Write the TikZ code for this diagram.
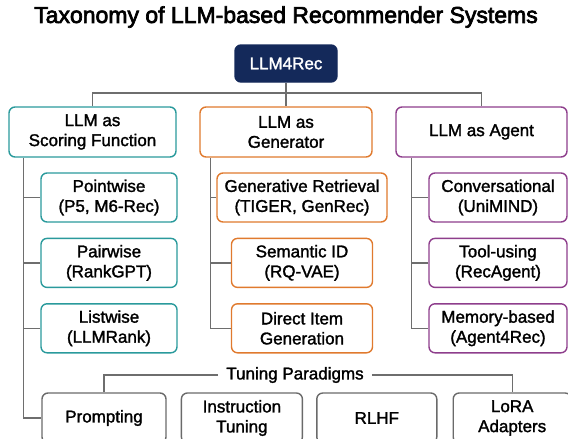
\documentclass[tikz,border=0pt]{standalone}
\usepackage{fontspec}
\setmainfont{Liberation Sans}[FakeBold=1.6]
\usetikzlibrary{positioning}
\definecolor{navy}{HTML}{14295A}
\definecolor{tealc}{HTML}{2A9A9C}
\definecolor{orangec}{HTML}{E07A2E}
\definecolor{purplec}{HTML}{8E3E8C}
\definecolor{linegray}{HTML}{6E6E6E}
\definecolor{tunegray}{HTML}{6A6A6A}

\begin{document}
\begin{tikzpicture}[
  x=1pt, y=-1pt,
  node distance=15pt and 14pt,
  box/.style={draw,rounded corners=6pt,line width=1.4pt,fill=white,align=center,
    inner sep=0pt,font=\fontsize{17}{20}\selectfont},
  rootbox/.style={box,draw=navy,fill=navy,text=white,minimum width=102pt,minimum height=37pt},
  scorebox/.style={box,draw=tealc,minimum height=49pt},
  genbox/.style={box,draw=orangec,minimum height=49pt},
  agentbox/.style={box,draw=purplec,minimum height=49pt},
  tunebox/.style={box,draw=tunegray,minimum height=50pt},
  link/.style={draw=linegray,line width=1.4pt}
]
\useasboundingbox (0,0) rectangle (568,439);

\node[font=\fontsize{23}{27}\selectfont\addfontfeatures{FakeBold=3}] (title) at (286,17) {Taxonomy of LLM-based Recommender Systems};

\node[rootbox] (root) at (286,63.5) {LLM4Rec};

\node[scorebox,minimum width=167pt,minimum height=50pt] (score) at (92.5,132) {LLM as\\Scoring Function};
\node[genbox,minimum width=172pt,minimum height=50pt] (gen) at (286,132) {LLM as\\Generator};
\node[agentbox,minimum width=171pt,minimum height=50pt] (agent) at (481.5,132) {LLM as Agent};

\node[scorebox,minimum width=136pt] (pw) at (109,197.5) {Pointwise\\(P5, M6-Rec)};
\node[scorebox,minimum width=136pt,below=of pw] (pair) {Pairwise\\(RankGPT)};
\node[scorebox,minimum width=136pt,below=of pair] (list) {Listwise\\(LLMRank)};

\node[genbox,minimum width=170pt] (gr) at (302,197.5) {Generative Retrieval\\(TIGER, GenRec)};
\node[genbox,minimum width=141pt,below=of gr] (sid) {Semantic ID\\(RQ-VAE)};
\node[genbox,minimum width=141pt,below=of sid] (dig) {Direct Item\\Generation};

\node[agentbox,minimum width=138pt] (conv) at (498,197.5) {Conversational\\(UniMIND)};
\node[agentbox,minimum width=138pt,below=of conv] (tool) {Tool-using\\(RecAgent)};
\node[agentbox,minimum width=138pt,below=of tool] (mem) {Memory-based\\(Agent4Rec)};

\node[font=\fontsize{17}{20}\selectfont,inner sep=8pt] (tune) at (295,375) {Tuning Paradigms};
\node[tunebox,minimum width=124pt] (prompt) at (104,418) {Prompting};
\node[tunebox,minimum width=121pt,right=of prompt] (instr) {Instruction\\Tuning};
\node[tunebox,minimum width=120pt,right=13pt of instr] (rlhf) {RLHF};
\node[tunebox,minimum width=118pt,right=15pt of rlhf] (lora) {LoRA\\Adapters};

\coordinate (bus) at (286,93);
\coordinate (strunk) at ([xshift=15pt]score.south west);
\coordinate (gtrunk) at ([xshift=11pt]gen.south west);
\coordinate (atrunk) at ([xshift=16pt]agent.south west);

\draw[link] (root) -- (gen);
\draw[link] (score.north) |- (bus) -| (agent.north);

\draw[link] (strunk) |- (prompt.west);
\draw[link] (pw.west) -- (pw.west -| strunk);
\draw[link] (pair.west) -- (pair.west -| strunk);
\draw[link] (list.west) -- (list.west -| strunk);

\draw[link] (gtrunk) |- (dig.west);
\draw[link] (gr.west) -- (gr.west -| gtrunk);
\draw[link] (sid.west) -- (sid.west -| gtrunk);

\draw[link] (atrunk) |- (mem.west);
\draw[link] (conv.west) -- (conv.west -| atrunk);
\draw[link] (tool.west) -- (tool.west -| atrunk);

\draw[link] (tune.west) -| (prompt.north);
\draw[link] (tune.east) -| (lora.north);

\end{tikzpicture}
\end{document}
